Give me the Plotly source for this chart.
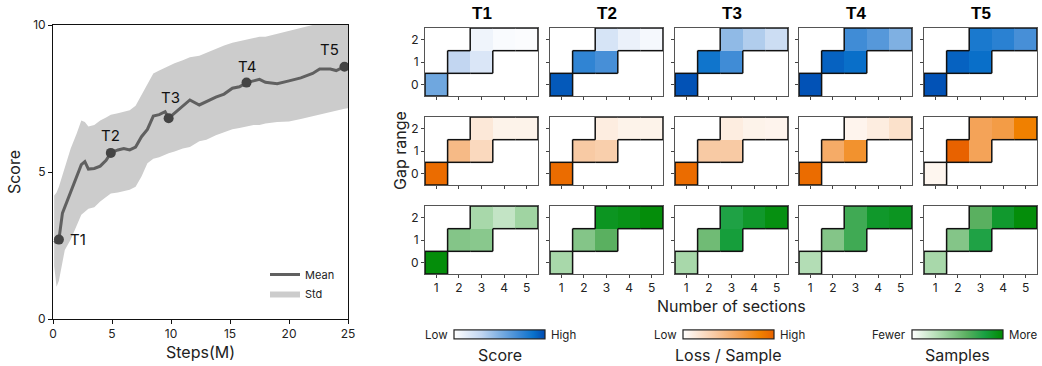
import numpy as np
import plotly.graph_objects as go

# ---------------- data: training curve ----------------
steps = [0.1, 0.3, 0.5, 0.8, 1.0, 1.5, 2.0, 2.4, 2.7, 3.0, 3.5, 4.0, 4.5, 4.9, 5.5, 6.0, 6.5,
         7.0, 7.5, 8.0, 8.5, 9.0, 9.5, 9.8, 10.3, 11.0, 11.6, 12.4, 13.0, 13.8, 14.5, 15.2,
         15.8, 16.4, 17.0, 17.5, 18.0, 19.0, 20.0, 21.0, 22.0, 22.6, 23.5, 24.0, 24.7, 25.0]
mean_score = [2.6, 2.65, 2.7, 3.6, 3.8, 4.3, 4.85, 5.25, 5.35, 5.1, 5.12, 5.2, 5.4, 5.65, 5.75,
              5.8, 5.75, 5.85, 6.2, 6.45, 6.9, 6.95, 7.05, 6.83, 7.0, 7.25, 7.45, 7.28, 7.4,
              7.55, 7.65, 7.85, 7.9, 8.04, 8.1, 8.15, 8.05, 8.0, 8.1, 8.2, 8.35, 8.5, 8.5,
              8.45, 8.58, 8.6]
upper_score = [4.2, 4.3, 4.5, 4.9, 5.2, 5.8, 6.3, 6.75, 6.7, 6.55, 6.6, 6.75, 6.85, 6.95, 7.0,
               7.05, 7.1, 7.25, 7.6, 8.0, 8.35, 8.45, 8.55, 8.6, 8.7, 8.8, 8.9, 8.95, 9.05,
               9.2, 9.3, 9.4, 9.45, 9.5, 9.55, 9.6, 9.6, 9.7, 9.8, 9.9, 10.0, 10.1, 10.2,
               10.25, 10.3, 10.3]
lower_score = [1.8, 1.1, 1.3, 2.0, 2.35, 2.7, 3.2, 3.55, 3.65, 3.75, 3.8, 4.0, 4.15, 4.27, 4.3,
               4.35, 4.4, 4.5, 4.85, 5.3, 5.45, 5.5, 5.6, 5.64, 5.7, 5.8, 5.85, 6.05, 6.1,
               6.25, 6.35, 6.45, 6.5, 6.55, 6.6, 6.6, 6.65, 6.7, 6.72, 6.8, 6.9, 6.95, 7.05,
               7.1, 7.15, 7.17]
stage_names = ["T1", "T2", "T3", "T4", "T5"]
stage_steps = [0.5, 4.9, 9.8, 16.4, 24.7]
stage_scores = [2.7, 5.65, 6.83, 8.04, 8.58]

# ---------------- data: heatmaps ----------------
sections = [1, 2, 3, 4, 5]
gap_ranges = [0, 1, 2]
cell_sections = [1, 2, 3, 3, 4, 5]
cell_gaps = [0, 1, 1, 2, 2, 2]
score_vals = [
    [0.55, 0.30, 0.18, 0.08, 0.03, 0.02],
    [0.95, 0.75, 0.68, 0.20, 0.10, 0.05],
    [0.97, 0.85, 0.70, 0.45, 0.35, 0.25],
    [0.97, 0.92, 0.88, 0.70, 0.63, 0.50],
    [0.97, 0.92, 0.88, 0.82, 0.77, 0.68],
]
loss_vals = [
    [0.95, 0.45, 0.25, 0.15, 0.08, 0.08],
    [0.95, 0.35, 0.32, 0.12, 0.08, 0.08],
    [0.95, 0.35, 0.35, 0.12, 0.08, 0.07],
    [0.95, 0.55, 0.72, 0.07, 0.12, 0.20],
    [0.06, 1.00, 0.60, 0.60, 0.65, 0.85],
]
sample_vals = [
    [0.97, 0.45, 0.43, 0.32, 0.22, 0.35],
    [0.32, 0.45, 0.60, 0.90, 0.93, 0.97],
    [0.32, 0.52, 0.82, 0.78, 0.87, 0.95],
    [0.28, 0.45, 0.68, 0.68, 0.87, 0.90],
    [0.32, 0.45, 0.78, 0.60, 0.86, 0.97],
]
metric_names = ["Score", "Loss / Sample", "Samples"]
low_labels = ["Low", "Low", "Fewer"]
high_labels = ["High", "High", "More"]

# ---------------- styling ----------------
W, H = 1042, 366
FONT = "Inter, 'Noto Sans', sans-serif"
blue_scale = [[0, "#ffffff"], [0.3, "#c2d6f1"], [0.5, "#7fb0e2"], [0.72, "#3a88d5"],
              [0.87, "#0a72cb"], [1, "#0049b0"]]
orange_scale = [[0, "#ffffff"], [0.35, "#f8caa4"], [0.6, "#f4a358"], [0.85, "#f08000"],
                [1, "#e86200"]]
green_scale = [[0, "#ffffff"], [0.32, "#a8d8aa"], [0.6, "#5ab060"], [0.8, "#18a042"],
               [1, "#008a00"]]
scales = [blue_scale, orange_scale, green_scale]


def px_x(p):
    return p / W


def px_y(p):
    return 1 - p / H


def paper_text(xp, yp, text, size, **kw):
    d = dict(x=px_x(xp), y=px_y(yp), xref="paper", yref="paper", text=text,
             showarrow=False, xanchor="center", yanchor="middle",
             font=dict(size=size, family=FONT, color="#222222"))
    d.update(kw)
    return d


fig = go.Figure()

# ---- left panel: training curve ----
fig.add_trace(go.Scatter(x=steps, y=lower_score, mode="lines", line=dict(width=0),
                         showlegend=False, hoverinfo="skip", xaxis="x", yaxis="y"))
fig.add_trace(go.Scatter(x=steps, y=upper_score, mode="lines", line=dict(width=0),
                         fill="tonexty", fillcolor="#cccccc", name="Std", legendrank=2,
                         xaxis="x", yaxis="y"))
fig.add_trace(go.Scatter(x=steps, y=mean_score, mode="lines",
                         line=dict(color="#606060", width=3), name="Mean", legendrank=1,
                         xaxis="x", yaxis="y"))
fig.add_trace(go.Scatter(x=stage_steps, y=stage_scores, mode="markers",
                         marker=dict(color="#444444", size=10), showlegend=False,
                         xaxis="x", yaxis="y"))

label_shift = [(19, 0), (0, 17), (2, 21), (0, 16), (-15, 17)]
annotations = []
for name, sx, sy, (dx, dy) in zip(stage_names, stage_steps, stage_scores, label_shift):
    annotations.append(dict(x=sx, y=sy, xref="x", yref="y", text=name, showarrow=False,
                            xshift=dx, yshift=dy, xanchor="center", yanchor="middle",
                            font=dict(size=15, color="#111111", family=FONT)))

layout = dict(
    width=W, height=H, margin=dict(l=0, r=0, t=0, b=0, autoexpand=False),
    paper_bgcolor="white", plot_bgcolor="white",
    font=dict(family=FONT, color="#222222"),
    showlegend=True,
    legend=dict(x=px_x(265), y=px_y(260), xanchor="left", yanchor="top",
                bgcolor="rgba(0,0,0,0)", font=dict(size=11, family=FONT),
                traceorder="normal", tracegroupgap=2, itemwidth=30),
    xaxis=dict(domain=[px_x(53), px_x(348)], range=[0, 25], tickvals=[0, 5, 10, 15, 20, 25],
               showgrid=False, zeroline=False, showline=True, mirror=True,
               linecolor="#111111", linewidth=1, ticks="outside", ticklen=4,
               tickcolor="#111111", tickfont=dict(size=12), anchor="y",
               title=dict(text="Steps(M)", font=dict(size=16), standoff=6)),
    yaxis=dict(domain=[px_y(319), px_y(25)], range=[0, 10], tickvals=[0, 5, 10],
               showgrid=False, zeroline=False, showline=True, mirror=True,
               linecolor="#111111", linewidth=1, ticks="outside", ticklen=4,
               tickcolor="#111111", tickfont=dict(size=12), anchor="x",
               title=dict(text="Score", font=dict(size=16), standoff=8)),
)

# ---- heatmap grid ----
col_left = [425, 550, 675, 799, 924]
row_top = [28, 117, 206]
pw, ph = 113, 68
metric_data = [score_vals, loss_vals, sample_vals]
coloraxes = ["coloraxis", "coloraxis2", "coloraxis3"]

valid = set(zip(cell_sections, cell_gaps))
# staircase outline derived from valid cells
ox, oy = [], []
for (cx, cy) in valid:
    for (nx, ny, seg) in [
        (cx - 1, cy, ((cx - 0.5, cy - 0.5), (cx - 0.5, cy + 0.5))),
        (cx + 1, cy, ((cx + 0.5, cy - 0.5), (cx + 0.5, cy + 0.5))),
        (cx, cy - 1, ((cx - 0.5, cy - 0.5), (cx + 0.5, cy - 0.5))),
        (cx, cy + 1, ((cx - 0.5, cy + 0.5), (cx + 0.5, cy + 0.5))),
    ]:
        if (nx, ny) not in valid:
            ox += [seg[0][0], seg[1][0], None]
            oy += [seg[0][1], seg[1][1], None]

for r in range(3):
    for c in range(5):
        k = 2 + r * 5 + c
        xa, ya = f"x{k}", f"y{k}"
        z = np.full((len(gap_ranges), len(sections)), np.nan)
        for s, g, v in zip(cell_sections, cell_gaps, metric_data[r][c]):
            z[gap_ranges.index(g), sections.index(s)] = v
        fig.add_trace(go.Heatmap(x=sections, y=gap_ranges, z=z, coloraxis=coloraxes[r],
                                 xaxis=xa, yaxis=ya, hoverongaps=False))
        fig.add_trace(go.Scatter(x=ox, y=oy, mode="lines", line=dict(color="#111111", width=1.5),
                                 showlegend=False, hoverinfo="skip", xaxis=xa, yaxis=ya))
        layout[f"xaxis{k}"] = dict(
            domain=[px_x(col_left[c]), px_x(col_left[c] + pw)], range=[0.5, 5.5],
            tickvals=sections, showticklabels=(r == 2), showgrid=False, zeroline=False,
            showline=True, mirror=True, linecolor="#555555", linewidth=1,
            ticks="outside", ticklen=3, tickcolor="#444444", tickfont=dict(size=12),
            anchor=ya)
        layout[f"yaxis{k}"] = dict(
            domain=[px_y(row_top[r] + ph), px_y(row_top[r])], range=[-0.5, 2.5],
            tickvals=gap_ranges, showticklabels=(c == 0), showgrid=False, zeroline=False,
            showline=True, mirror=True, linecolor="#555555", linewidth=1,
            ticks="outside", ticklen=3, tickcolor="#444444", tickfont=dict(size=12),
            anchor=xa)

# column titles
for c, name in enumerate(stage_names):
    annotations.append(paper_text(col_left[c] + pw / 2, 13, f"<b>{name}</b>", 17,
                                  font=dict(size=17, color="#000000",
                                            family="'Liberation Sans', Arial, sans-serif")))
annotations.append(paper_text(400, 151, "Gap range", 16, textangle=-90))
annotations.append(paper_text(731, 306, "Number of sections", 16))

# ---- colorbars ----
bar_left = [454, 683, 912]
bar_len = 91
bar_y = 335
for i in range(3):
    key = "coloraxis" if i == 0 else f"coloraxis{i + 1}"
    layout[key] = dict(
        colorscale=scales[i], cmin=0, cmax=1,
        colorbar=dict(orientation="h", x=px_x(bar_left[i] + bar_len / 2), xanchor="center",
                      y=px_y(bar_y), yanchor="middle", len=bar_len, lenmode="pixels",
                      thickness=9, thicknessmode="pixels", showticklabels=False, ticks="",
                      outlinewidth=1.2, outlinecolor="#222222", xpad=0, ypad=0,
                      borderwidth=0))
    annotations.append(paper_text(bar_left[i] - 4, bar_y, low_labels[i], 11.5, xanchor="right"))
    annotations.append(paper_text(bar_left[i] + bar_len + 4, bar_y, high_labels[i], 11.5,
                                  xanchor="left"))
    annotations.append(paper_text(bar_left[i] + bar_len / 2, 355, metric_names[i], 16))

layout["annotations"] = annotations
fig.update_layout(**layout)
fig.write_html("out.html", config={"displayModeBar": False},
               post_script="document.body.style.margin='0';document.body.style.padding='0';")
